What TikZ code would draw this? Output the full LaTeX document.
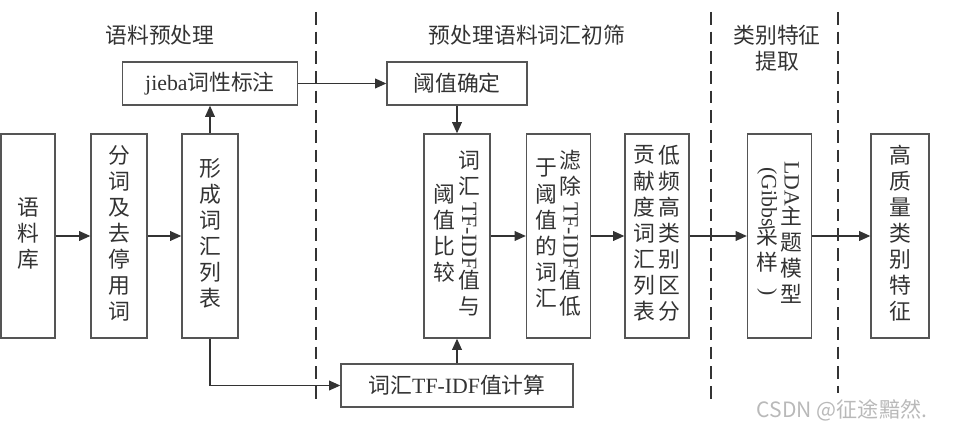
\documentclass[tikz,border=0pt]{standalone}
\usepackage{fontspec}
\usepackage{graphicx}
\setmainfont{Liberation Serif}
\newfontfamily\cjk{Noto Sans CJK SC}
\usetikzlibrary{arrows.meta}
\definecolor{inkgray}{HTML}{333333}
\definecolor{boxgray}{HTML}{555555}
\newcommand{\lat}[1]{{\rmfamily #1}}
\newcommand{\vcol}[1]{\begin{tabular}[c]{@{}c@{}}#1\end{tabular}}
\newcommand{\vlat}[1]{\rotatebox[origin=c]{-90}{\lat{#1}}}

\begin{document}
\begin{tikzpicture}[
    font=\cjk\fontsize{15.5}{18.5}\selectfont,
    % Styles
    stagebox/.style={rectangle, draw=boxgray, line width=1pt, fill=white, minimum height=5.1cm, inner sep=1pt, text=inkgray},
    flatbox/.style={rectangle, draw=boxgray, line width=1pt, fill=white, minimum height=1.075cm, text=inkgray},
    stagetitle/.style={text=inkgray, align=center},
    arrow/.style={-{Triangle[length=8pt, width=7pt]}, line width=0.85pt, inkgray},
    divider/.style={inkgray, line width=1.4pt, dash pattern=on 9pt off 5pt}
]
\useasboundingbox (0,0) rectangle (24.4,11.025);

% ==================== STAGE TITLES ====================
\node[stagetitle] (pre_title) at (4.0, 10.15) {语料预处理};
\node[stagetitle] (screen_title) at (13.175, 10.15) {预处理语料词汇初筛};
\node[stagetitle] (feat_title) at (19.425, 9.825) {类别特征\\提取};

% ==================== DIVIDERS ====================
\coordinate (d1top) at (7.9, 10.725);
\coordinate (d1bot) at (7.9, 0.95);
\coordinate (d2top) at (17.775, 10.725);
\coordinate (d2bot) at (17.775, 0.95);
\coordinate (d3top) at (20.95, 10.725);
\coordinate (d3bot) at (20.95, 1.2);
\draw[divider] (d1top) -- (d1bot);
\draw[divider] (d2top) -- (d2bot);
\draw[divider] (d3top) -- (d3bot);

% ==================== PREPROCESSING ====================
\node[stagebox, minimum width=1.35cm] (corpus) at (0.7, 5.125) {\vcol{语\\料\\库}};
\node[stagebox, minimum width=1.4cm] (segment) at (2.975, 5.125) {\vcol{分\\词\\及\\去\\停\\用\\词}};
\node[stagebox, minimum width=1.4cm] (wordlist) at (5.25, 5.125) {\vcol{形\\成\\词\\汇\\列\\表}};
\node[flatbox, minimum width=4.375cm] (jieba) at (5.25, 8.9375) {\lat{jieba}词性标注};

% ==================== SCREENING ====================
\node[flatbox, minimum width=3.5cm] (thresh) at (11.425, 8.9375) {阈值确定};
\node[flatbox, minimum width=5.8cm] (tfidf) at (11.425, 1.3875) {词汇\lat{TF-IDF}值计算};
\node[stagebox, minimum width=1.65cm] (compare) at (11.425, 5.125) {\vcol{阈\\值\\比\\较}\hspace{2pt}\vcol{词\\汇\\\vlat{TF-IDF}\\值\\与}};
\node[stagebox, minimum width=1.6cm] (filter) at (13.9625, 5.125) {\vcol{于\\阈\\值\\的\\词\\汇}\hspace{2pt}\vcol{滤\\除\\\vlat{TF-IDF}\\值\\低}};
\node[stagebox, minimum width=1.6cm] (split) at (16.425, 5.125) {\vcol{贡\\献\\度\\词\\汇\\列\\表}\hspace{2pt}\vcol{低\\频\\高\\类\\别\\区\\分}};

% ==================== FEATURES ====================
\node[stagebox, minimum width=1.6cm] (lda) at (19.4875, 5.125) {\vcol{\vlat{(Gibbs}\\采\\样\\\vlat{)}}\hspace{2pt}\vcol{\vlat{LDA}\\主\\题\\模\\型}};
\node[stagebox, minimum width=1.45cm] (feature) at (22.5, 5.125) {\vcol{高\\质\\量\\类\\别\\特\\征}};

\node[font=\cjk\fontsize{15}{18}\selectfont, text=gray!55] (mark) at (21.05, 0.775) {CSDN @征途黯然.};

% ==================== CONNECTORS ====================
\draw[arrow] (corpus) -- (segment);
\draw[arrow] (segment) -- (wordlist);
\draw[arrow] (wordlist) -- (jieba);
\draw[arrow] (jieba) -- (thresh);
\draw[arrow] (thresh) -- (compare);
\draw[arrow] (wordlist.south) |- (tfidf.west);
\draw[arrow] (tfidf) -- (compare);
\draw[arrow] (compare) -- (filter);
\draw[arrow] (filter) -- (split);
\draw[arrow] (split) -- (lda);
\draw[arrow] (lda) -- (feature);

\end{tikzpicture}
\end{document}
